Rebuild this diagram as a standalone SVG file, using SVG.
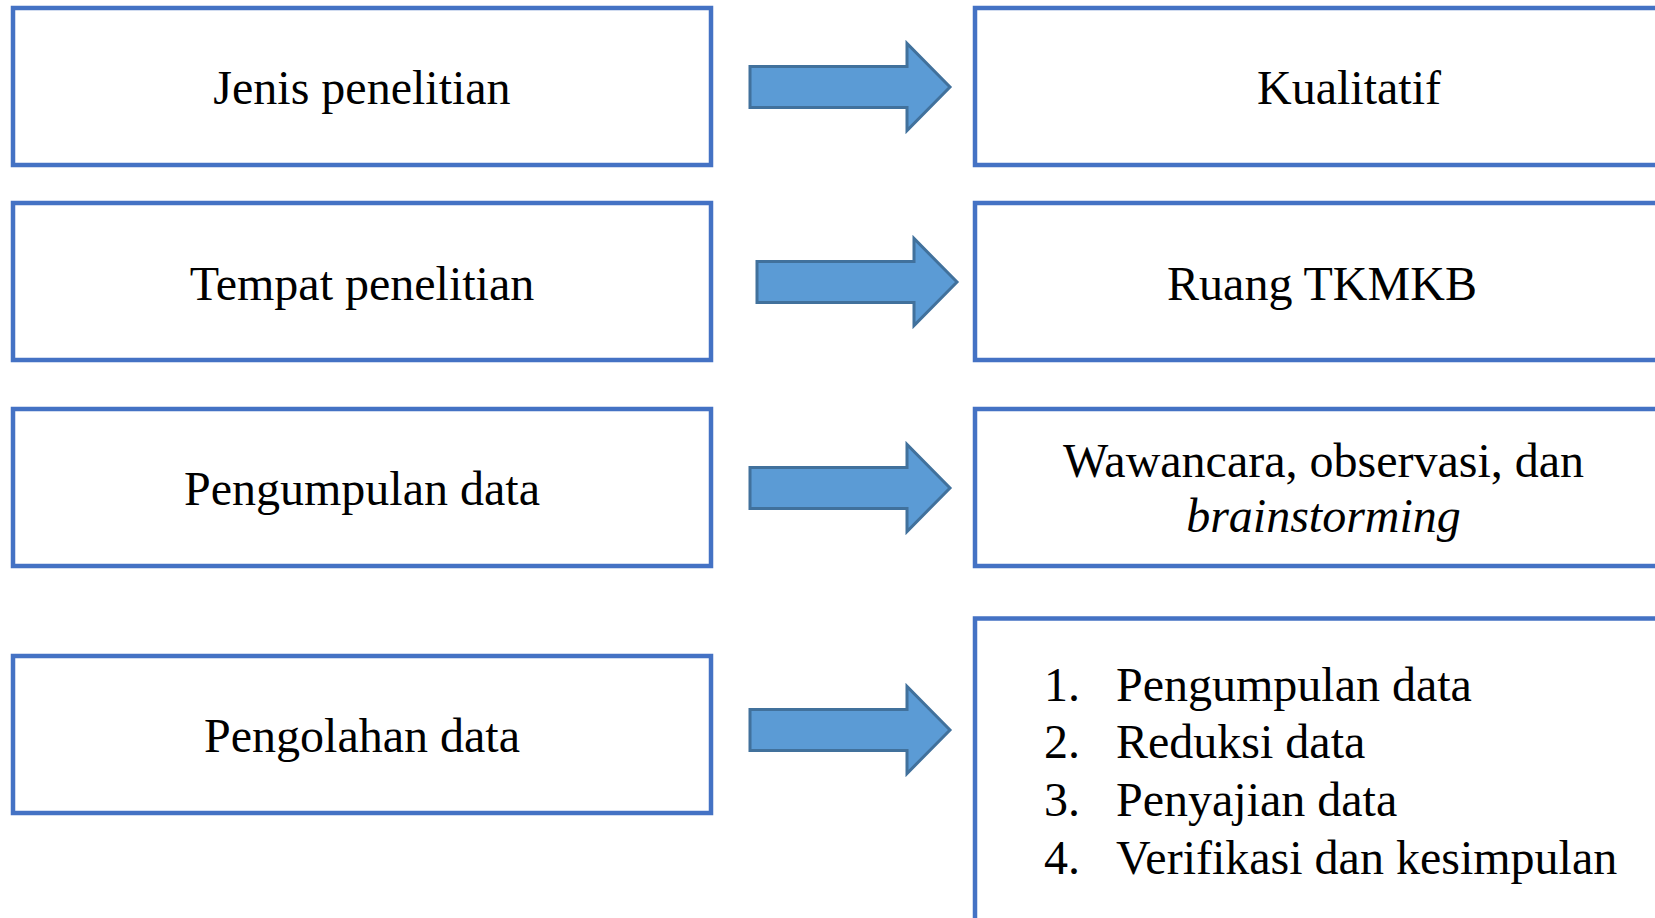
<svg xmlns="http://www.w3.org/2000/svg" width="1655" height="918" viewBox="0 0 1655 918">
<style>
.box{fill:#fff;stroke:#4472C4;stroke-width:4.5;}
.t{font-family:"Liberation Serif","Times New Roman",serif;font-size:48px;fill:#000;}
.c{text-anchor:middle;}
.arr{fill:#5B9BD5;stroke:#41719C;stroke-width:3;stroke-linejoin:miter;}
</style>
<defs>
<path id="arrow" d="M0,-20.5 H157 V-43.5 L200,0 L157,43.5 V20.5 H0 Z"/>
</defs>
<rect width="1655" height="918" fill="#fff"/>
<g id="n1"><rect class="box" x="13" y="8" width="698" height="157"/><text class="t c" x="362" y="104">Jenis penelitian</text></g>
<g id="n2"><rect class="box" x="13" y="203" width="698" height="157"/><text class="t c" x="362" y="299.5">Tempat penelitian</text></g>
<g id="n3"><rect class="box" x="13" y="409" width="698" height="157"/><text class="t c" x="362" y="505">Pengumpulan data</text></g>
<g id="n4"><rect class="box" x="13" y="656" width="698" height="157"/><text class="t c" x="362" y="752">Pengolahan data</text></g>
<g id="r1"><rect class="box" x="975" y="8" width="720" height="157"/><text class="t c" x="1349" y="104">Kualitatif</text></g>
<g id="r2"><rect class="box" x="975" y="203" width="720" height="157"/><text class="t c" x="1322" y="299.5">Ruang TKMKB</text></g>
<g id="r3"><rect class="box" x="975" y="409" width="720" height="157"/><text class="t c" x="1323.5" y="477">Wawancara, observasi, dan</text><text class="t c" x="1323.5" y="532" font-style="italic">brainstorming</text></g>
<g id="r4"><rect class="box" x="975" y="618.5" width="720" height="340"/>
<text class="t" x="1044" y="701">1.</text><text class="t" x="1116" y="701">Pengumpulan data</text>
<text class="t" x="1044" y="758">2.</text><text class="t" x="1116" y="758">Reduksi data</text>
<text class="t" x="1044" y="816">3.</text><text class="t" x="1116" y="816">Penyajian data</text>
<text class="t" x="1044" y="874">4.</text><text class="t" x="1116" y="874">Verifikasi dan kesimpulan</text>
</g>
<g id="connectors">
<use href="#arrow" class="arr" x="750" y="87"/>
<use href="#arrow" class="arr" x="757" y="282"/>
<use href="#arrow" class="arr" x="750" y="488"/>
<use href="#arrow" class="arr" x="750" y="730"/>
</g>
</svg>
